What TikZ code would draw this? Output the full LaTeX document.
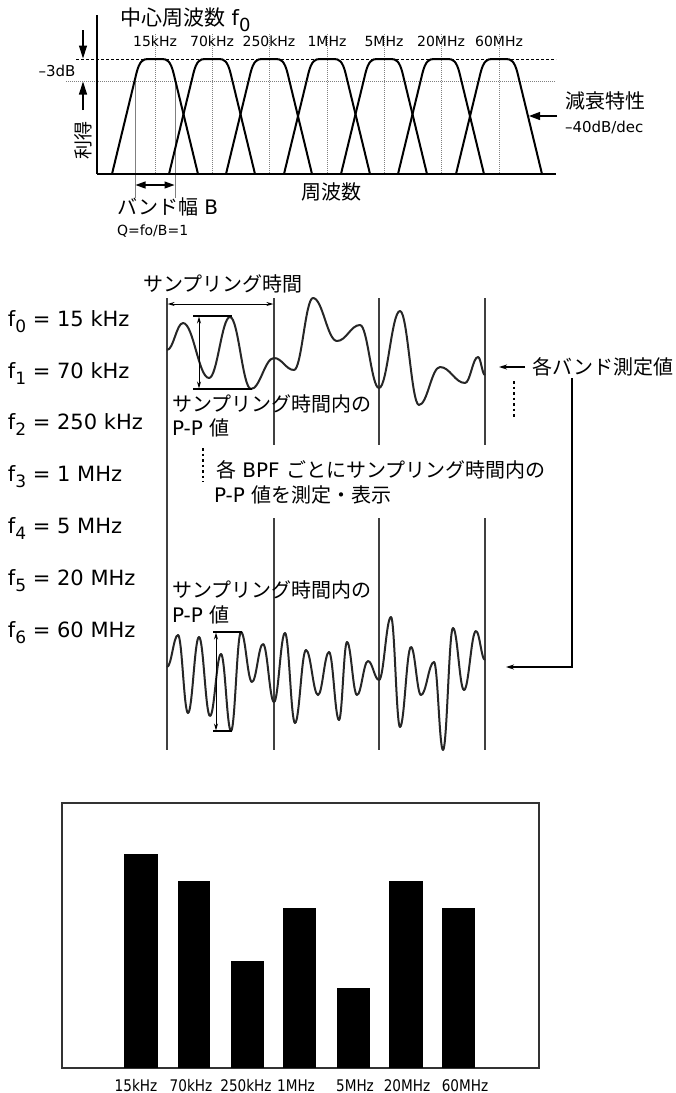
\documentclass[tikz,border=0pt]{standalone}
\usepackage{fontspec}
\setmainfont{DejaVu Sans}
\newfontfamily\jp{Noto Sans CJK JP}
\newfontfamily\cond[FakeStretch=0.85]{DejaVu Sans}
\usetikzlibrary{arrows.meta}
\newcommand\fsz[1]{\fontsize{#1}{#1}\selectfont}
\newcommand\subz[2][17]{\raisebox{-0.3em}{\fontsize{#1}{#1}\selectfont #2}}
\newcommand\bandshape[1]{%
  \draw[band] ({#1-43},174) -- ({#1-18.5},73)
    .. controls ({#1-15.5},61) and ({#1-12},59) .. ({#1-7},59) -- ({#1+7},59)
    .. controls ({#1+12},59) and ({#1+15.5},61) .. ({#1+18.5},73) -- ({#1+43},174);}
\newcommand\wavepath[3]{%
  \draw[wave] (#1,#2) \foreach \x/\y [remember=\x as \lx (initially #1), remember=\y as \ly (initially #2)] in {#3}
    { .. controls ({\lx+0.4*(\x-\lx)},\ly) and ({\x-0.4*(\x-\lx)},\y) .. (\x,\y) };}
\begin{document}
\begin{tikzpicture}[x=1pt,y=-1pt,
  txt/.style={inner sep=0pt, outer sep=0pt},
  jp20/.style={txt, font={\jp\fsz{20}}},
  la20/.style={txt, font={\fsz{21}}},
  la14/.style={txt, font={\fsz{14}}},
  band/.style={line width=2pt, line join=round},
  cline/.style={gray, line width=0.6pt, dash pattern=on 1pt off 1pt},
  vline/.style={black!75, line width=1.3pt},
  wave/.style={line width=2pt, black!85, line join=round},
  dotv/.style={line width=2pt, dash pattern=on 2.5pt off 3pt},
  bigtip/.style={-{Triangle[length=13pt,width=8pt]}},
  smalltip/.style={-{Stealth[length=8pt,width=5pt]}},
  dbl/.style={{Stealth[length=7pt,width=4pt]}-{Stealth[length=7pt,width=4pt]}},
  bar/.style={fill=black, draw=none}
]
\fill[white] (0,0) rectangle (676,1093);
\useasboundingbox (0,0) rectangle (676,1093);

% ---------------- top graph ----------------
\foreach \c in {155,212,269,327,384,441,499} { \draw[cline] (\c,34) -- (\c,174); }
\draw[dash pattern=on 3pt off 2pt, line width=1pt] (76,59) -- (556,59);
\draw[cline, line width=0.8pt] (66,81) -- (556,81);
\draw[gray, line width=0.6pt] (135,81) -- (135,198);
\draw[gray, line width=0.6pt] (175,81) -- (175,198);
\foreach \c in {155,212,269,327,384,441,499} { \bandshape{\c} }
\draw[line width=1.3pt] (97,15) -- (97,174);
\draw[line width=2pt] (97,174) -- (556,174);

\node[txt, font={\fsz{21}}, anchor=base west] (title) at (120,25) {{\jp 中心周波数} f\subz[18]{0}};
\foreach \c/\s in {155/15kHz,212/70kHz,269/250kHz,327/1MHz,384/5MHz,441/20MHz,499/60MHz}
  { \node[la14, anchor=base] (top\c) at (\c,46.5) {\s}; }

\coordinate (dbA) at (83,30);  \coordinate (dbB) at (83,58.5);
\coordinate (dbC) at (83,110); \coordinate (dbD) at (83,81.5);
\draw[line width=1.2pt, bigtip] (dbA) -- (dbB);
\draw[line width=1.2pt, bigtip] (dbC) -- (dbD);
\node[txt, font={\fsz{15}}, anchor=base] (m3db) at (57,76.5) {–3dB};
\node[txt, font={\jp\fsz{19}}, rotate=90] (gain) at (83,140) {利得};

\coordinate (bwA) at (135.5,185); \coordinate (bwB) at (174.5,185);
\draw[line width=1.2pt, {Triangle[length=10pt,width=7pt]}-{Triangle[length=10pt,width=7pt]}] (bwA) -- (bwB);
\node[txt, font={\fsz{20}}, anchor=base west] (bw) at (117,214.5) {{\jp バンド幅} B};
\node[la14, anchor=base west] (qv) at (117,235) {Q=fo/B=1};
\node[jp20, anchor=base] (freq) at (331,199.5) {周波数};
\node[jp20, anchor=base west] (att) at (565,108.5) {減衰特性};
\node[txt, font={\fsz{15}}, anchor=base west] (dec) at (565,132.5) {–40dB/dec};
\coordinate (atA) at (557,116); \coordinate (atB) at (529,116);
\draw[line width=1.2pt, -{Triangle[length=11pt,width=8pt]}] (atA) -- (atB);

% ---------------- middle ----------------
\foreach \i/\f/\b in {0/15 kHz/326, 1/70 kHz/378, 2/250 kHz/429, 3/1 MHz/481, 4/5 MHz/533, 5/20 MHz/585, 6/60 MHz/637}
  { \node[la20, anchor=base west] (f\i) at (8,\b) {f\subz{\i} = \f}; }

\draw[vline] (167,298) -- (167,750);
\foreach \x in {274,379,485} { \draw[vline] (\x,298) -- (\x,445); \draw[vline] (\x,518) -- (\x,750); }

\node[jp20, anchor=base] (st) at (223,291.5) {サンプリング時間};
\coordinate (stA) at (167.6,304); \coordinate (stB) at (273.4,304);
\draw[line width=1pt, dbl] (stA) -- (stB);

% upper waveform
\wavepath{167}{350}{183/323, 209/378, 230/317, 251/389, 274/358, 294/370, 313/298, 337/341, 360/325, 379/388, 400/311, 419/405, 440/367, 465/383, 478/357, 485/375}
\draw[line width=1.2pt] (193,316) -- (232,316);
\draw[line width=1.2pt] (193,389) -- (252,389);
\coordinate (ppA) at (199,316.5); \coordinate (ppB) at (199,388.5);
\draw[line width=1pt, dbl] (ppA) -- (ppB);

\node[jp20, anchor=base west] (pp1a) at (172,411.5) {サンプリング時間内の};
\node[txt, font={\fsz{20}}, anchor=base west] (pp1b) at (172,435.5) {P-P {\jp 値}};

\draw[dotv] (203,448) -- (203,482);
\node[txt, font={\fsz{20}}, anchor=base west] (note1) at (216,477.5) {{\jp 各} BPF {\jp ごとにサンプリング時間内の}};
\node[txt, font={\fsz{20}}, anchor=base west] (note2) at (214,502.5) {P-P {\jp 値を測定・表示}};

% lower waveform
\node[jp20, anchor=base west] (pp2a) at (172,597.5) {サンプリング時間内の};
\node[txt, font={\fsz{20}}, anchor=base west] (pp2b) at (172,622.5) {P-P {\jp 値}};
\wavepath{167}{667}{178/635, 188/713, 199/637, 210/716, 221/654, 231/731, 241/632, 252/682, 263/644, 274/702, 285/633, 295/723, 306/650, 318/695, 329/652, 339/720, 347/642, 357/695, 368/661, 379/680, 391/617, 400/727, 411/647, 421/695, 434/662, 443/750, 453/628, 464/690, 476/631, 485/660}
\draw[line width=1.2pt] (213,632) -- (242,632);
\draw[line width=1.2pt] (213,731) -- (232,731);
\coordinate (pqA) at (216,632.5); \coordinate (pqB) at (216,730.5);
\draw[line width=1pt, dbl] (pqA) -- (pqB);

% right side
\node[jp20, anchor=base west] (meas) at (532,374.5) {各バンド測定値};
\coordinate (msA) at (525,367); \coordinate (msB) at (499,367);
\draw[line width=1.3pt, smalltip] (msA) -- (msB);
\draw[dotv] (514,381) -- (514,417);
\coordinate (lnA) at (572,378); \coordinate (lnB) at (572,667); \coordinate (lnC) at (506,667);
\draw[line width=1.3pt, smalltip] (lnA) -- (lnB) -- (lnC);

% ---------------- bar chart ----------------
\draw[line width=1.5pt, black!80] (62,803) rectangle (539,1068);
\foreach \a/\b/\t in {124/158/854, 178/210/881, 231/264/961, 283/316/908, 337/370/988, 389/423/881, 442/475/908}
  { \fill[bar] (\a,\t) rectangle (\b,1068); }
\foreach \c/\s in {136/15kHz, 191/70kHz, 246/250kHz, 296/1MHz, 355/5MHz, 407/20MHz, 465/60MHz}
  { \node[txt, font={\cond\fsz{16}}, anchor=base] (lab\c) at (\c,1091) {\s}; }
\end{tikzpicture}
\end{document}
